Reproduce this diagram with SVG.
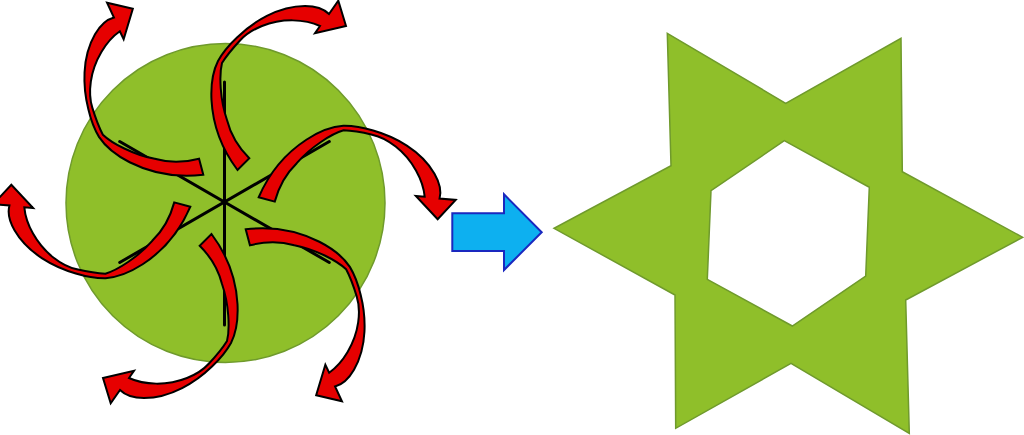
<svg xmlns="http://www.w3.org/2000/svg" xmlns:xlink="http://www.w3.org/1999/xlink" width="1024" height="435" viewBox="0 0 1024 435">
<style>
.green{fill:#8fbf2a;stroke:#6f9a2c;stroke-width:1.5}
.spoke{stroke:#000;stroke-width:3;fill:none;stroke-linecap:round}
.curl{fill:#e60000;stroke:#000;stroke-width:2;stroke-linejoin:miter}
.blue{fill:#0db0f0;stroke:#1a28bf;stroke-width:2}
</style>
<defs>
<path id="curl" class="curl" d="M237.5,170 C224,152 213,128 211.5,100 C210.8,86 212.5,72 218,61 C223,52 229,45 237,37.5 C253,22 278,6 305,6 C316,6 324,9 329,14 L338.3,0.7 L346,26 L315,33.3 L320,26 C305,19 282,18 262,26 C252,30 245,35 240,40.5 C233,48 227,55 222,63 C219,75 220,100 227,120 C231,136 240,149 249.3,158.3 Z"/>
</defs>
<g id="disc">
<circle class="green" cx="225.5" cy="203" r="159.5"/>
</g>
<g id="spokes">
<line class="spoke" x1="224.5" y1="82" x2="224.5" y2="325"/>
<line class="spoke" x1="119.7" y1="141.5" x2="329.3" y2="262.5"/>
<line class="spoke" x1="119.7" y1="262.5" x2="329.3" y2="141.5"/>
</g>
<g id="curls">
<use xlink:href="#curl"/>
<use xlink:href="#curl" transform="rotate(60 224.5 202)"/>
<use xlink:href="#curl" transform="rotate(120 224.5 202)"/>
<use xlink:href="#curl" transform="rotate(180 224.5 202)"/>
<use xlink:href="#curl" transform="rotate(240 224.5 202)"/>
<use xlink:href="#curl" transform="rotate(300 224.5 202)"/>
</g>
<g id="transform-arrow">
<polygon class="blue" points="452.3,213.3 504,213.3 504,194.3 541.7,232.3 504,270 504,251 452.3,251"/>
</g>
<g id="star">
<path class="green" fill-rule="evenodd" d="M667.3,33.3 L785.7,103.3 L901,38.3 L902.3,171.7 L1022.7,237.3 L905.7,300 L909.3,433.3 L791,363.3 L675.7,428.3 L675,295 L554,228.3 L671,165.7 Z M784.3,140.7 L869.3,187.3 L865.7,276 L792.3,326 L707.3,279.3 L711,190.7 Z"/>
</g>
</svg>
